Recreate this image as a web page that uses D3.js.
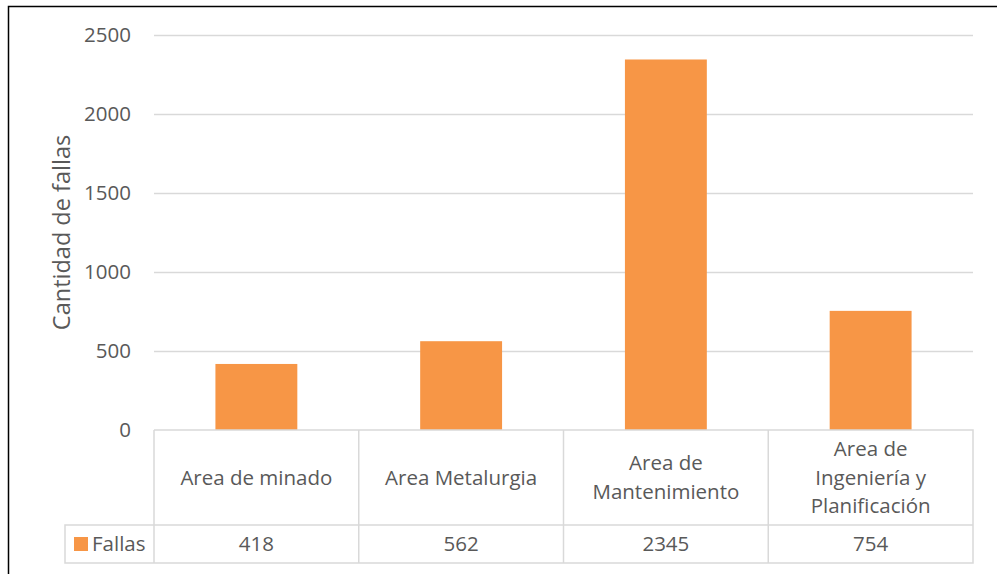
<!DOCTYPE html>
<html>
<head>
<meta charset="utf-8">
<script src="https://cdn.jsdelivr.net/npm/d3@7"></script>
<style>
  body { margin: 0; background: #fff; }
  svg { display: block; font-family: "Open Sans", sans-serif; }
</style>
</head>
<body>
<div id="chart"></div>
<script>
// data
const categories = [
  ["Area de minado"],
  ["Area Metalurgia"],
  ["Area de", "Mantenimiento"],
  ["Area de", "Ingeniería y", "Planificación"]
];
const seriesName = "Fallas";
const fallas = [418, 562, 2345, 754];
const yTicks = [0, 500, 1000, 1500, 2000, 2500];

const W = 997, H = 574;
const plot = { left: 154, right: 973, top: 35, bottom: 430 };
const tableLeft = 65, catRowBottom = 525, valRowBottom = 563;
const textColor = "#595959";
const gridColor = "#D9D9D9";
const barColor = "#F79646";
const fontSize = "20.5px";

const svg = d3.select("#chart").append("svg")
  .attr("width", W)
  .attr("height", H);

// outer chart border (cropped at right / bottom)
svg.append("path")
  .attr("d", `M8.5,${H + 5} L8.5,6.5 L${W + 5},6.5`)
  .attr("fill", "none")
  .attr("stroke", "#000")
  .attr("stroke-width", 1.5);

// bars: gap width 150%
const x = d3.scaleBand()
  .domain(d3.range(categories.length))
  .range([plot.left, plot.right])
  .paddingInner(0.6)
  .paddingOuter(0.3);

// band for table columns (no padding)
const col = d3.scaleBand()
  .domain(d3.range(categories.length))
  .range([plot.left, plot.right]);

const y = d3.scaleLinear()
  .domain([0, 2500])
  .range([plot.bottom, plot.top]);

// gridlines
svg.append("g")
  .selectAll("line")
  .data(yTicks.filter(d => d > 0))
  .join("line")
    .attr("x1", plot.left)
    .attr("x2", plot.right)
    .attr("y1", d => Math.round(y(d)) + 0.5)
    .attr("y2", d => Math.round(y(d)) + 0.5)
    .attr("stroke", gridColor)
    .attr("stroke-width", 1.3);

// y axis labels
const yAxis = d3.axisLeft(y)
  .tickValues(yTicks)
  .tickFormat(d3.format("d"))
  .tickSize(0)
  .tickPadding(0);
const gy = svg.append("g")
  .attr("transform", `translate(131,0)`)
  .call(yAxis);
gy.select(".domain").remove();
gy.selectAll("text")
  .attr("fill", textColor)
  .style("font-size", fontSize)
  .style("font-family", "'Open Sans', sans-serif");

// y axis title
svg.append("text")
  .attr("transform", `translate(69.5,${(plot.top + plot.bottom) / 2}) rotate(-90)`)
  .attr("text-anchor", "middle")
  .attr("fill", textColor)
  .style("font-size", "23.5px")
  .text("Cantidad de fallas");

// bars
svg.append("g")
  .selectAll("rect")
  .data(fallas)
  .join("rect")
    .attr("x", (d, i) => x(i))
    .attr("width", x.bandwidth())
    .attr("y", d => y(d))
    .attr("height", d => y(0) - y(d))
    .attr("fill", barColor);

// data table
const table = svg.append("g")
  .attr("stroke", gridColor)
  .attr("stroke-width", 1.5)
  .attr("fill", "none");

table.append("path")
  .attr("d", [
    `M${plot.left},${plot.bottom} H${plot.right} V${valRowBottom} H${tableLeft} V${catRowBottom} H${plot.right}`,
    ...d3.range(categories.length + 1).map(i => {
      const cx = i < categories.length ? col(i) : plot.right;
      return `M${cx},${plot.bottom} V${valRowBottom}`;
    })
  ].join(" "));

// category labels
const lineH = 28.5;
const catG = svg.append("g")
  .selectAll("text")
  .data(categories)
  .join("text")
    .attr("text-anchor", "middle")
    .attr("fill", textColor)
    .style("font-size", fontSize)
    .attr("x", (d, i) => col(i) + col.bandwidth() / 2)
    .attr("y", d => (plot.bottom + catRowBottom) / 2 - (d.length - 1) * lineH / 2);

catG.selectAll("tspan")
  .data(d => d)
  .join("tspan")
    .attr("x", function () { return d3.select(this.parentNode).attr("x"); })
    .attr("dy", (d, i) => i === 0 ? "0.35em" : lineH)
    .text(d => d);

// value row
svg.append("g")
  .selectAll("text")
  .data(fallas)
  .join("text")
    .attr("text-anchor", "middle")
    .attr("fill", textColor)
    .style("font-size", fontSize)
    .attr("x", (d, i) => col(i) + col.bandwidth() / 2)
    .attr("y", (catRowBottom + valRowBottom) / 2)
    .attr("dy", "0.35em")
    .text(d => d);

// legend key in table
svg.append("rect")
  .attr("x", 74)
  .attr("y", 537)
  .attr("width", 14)
  .attr("height", 14)
  .attr("fill", barColor);

svg.append("text")
  .attr("x", 92)
  .attr("y", (catRowBottom + valRowBottom) / 2)
  .attr("dy", "0.35em")
  .attr("fill", textColor)
  .style("font-size", fontSize)
  .text(seriesName);
</script>
</body>
</html>
